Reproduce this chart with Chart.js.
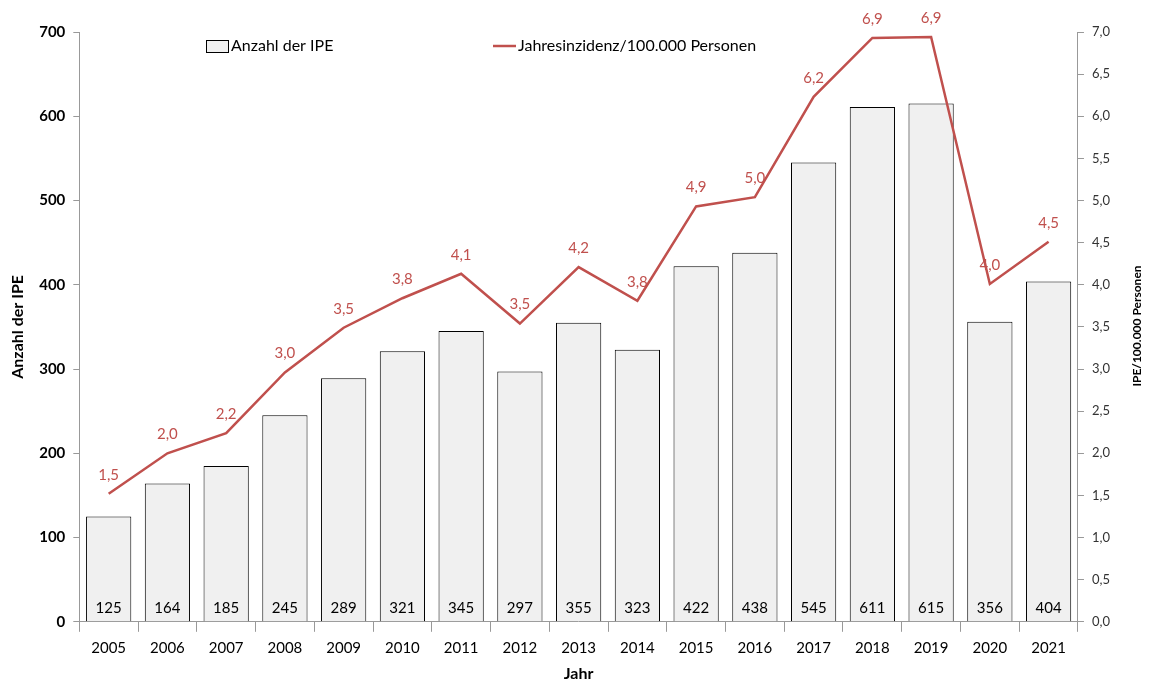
<!DOCTYPE html>
<html>
<head>
<meta charset="utf-8">
<script src="https://cdn.jsdelivr.net/npm/chart.js@4"></script>
<style>
  html, body { margin: 0; padding: 0; background: #fff; }
  #wrap { width: 1150px; height: 687px; }
</style>
</head>
<body>
<div id="wrap"><canvas id="ipeChart"></canvas></div>
<script>
// Jahre (x-Achse)
const years = ['2005', '2006', '2007', '2008', '2009', '2010', '2011', '2012', '2013',
  '2014', '2015', '2016', '2017', '2018', '2019', '2020', '2021'];
// Anzahl der IPE (Balken)
const ipeCount = [125, 164, 185, 245, 289, 321, 345, 297, 355, 323, 422, 438, 545, 611, 615, 356, 404];
// Jahresinzidenz/100.000 Personen (Linie)
const incidence = [1.52, 2.0, 2.24, 2.96, 3.49, 3.84, 4.13, 3.54, 4.21, 3.81, 4.93, 5.04, 6.23, 6.93, 6.94, 4.01, 4.51];

const FONT = 'Lato, "Open Sans", sans-serif';
const RED = '#c0504d';

function deNum(v) { return v.toFixed(1).replace('.', ','); }

// Beschriftungen, Legende und rechter Achsentitel
const labelPlugin = {
  id: 'labelPlugin',
  afterDatasetsDraw(chart) {
    const ctx = chart.ctx;
    const area = chart.chartArea;
    ctx.save();
    ctx.textAlign = 'center';
    ctx.textBaseline = 'middle';

    // Balkenwerte unten im Balken
    ctx.font = '15px ' + FONT;
    ctx.fillStyle = '#000';
    chart.getDatasetMeta(0).data.forEach(function(bar, i) {
      ctx.fillText(ipeCount[i], bar.x, area.bottom - 14);
    });

    // Linienwerte über den Punkten
    ctx.fillStyle = RED;
    chart.getDatasetMeta(1).data.forEach(function(pt, i) {
      ctx.fillText(deNum(incidence[i]), pt.x, pt.y - 19);
    });

    // Legende
    ctx.textAlign = 'left';
    ctx.font = '16px ' + FONT;
    ctx.fillStyle = '#f0f0f0';
    ctx.fillRect(206, 40, 22, 12);
    ctx.strokeStyle = '#000';
    ctx.lineWidth = 1;
    ctx.strokeRect(206.5, 40.5, 22, 12);
    ctx.fillStyle = '#000';
    ctx.fillText('Anzahl der IPE', 231, 46);
    ctx.strokeStyle = RED;
    ctx.lineWidth = 2.5;
    ctx.beginPath();
    ctx.moveTo(493, 46);
    ctx.lineTo(516, 46);
    ctx.stroke();
    ctx.fillText('Jahresinzidenz/100.000 Personen', 518, 46);

    // rechter Achsentitel (von unten nach oben)
    ctx.translate(1137, 326);
    ctx.rotate(-Math.PI / 2);
    ctx.textAlign = 'center';
    ctx.font = 'bold 12px ' + FONT;
    ctx.fillText('IPE/100.000 Personen', 0, 0);
    ctx.restore();
  }
};

const ctx = document.getElementById('ipeChart').getContext('2d');
const ipeChart = new Chart(ctx, {
  type: 'bar',
  data: {
    labels: years,
    datasets: [
      {
        label: 'Anzahl der IPE',
        data: ipeCount,
        backgroundColor: '#f0f0f0',
        borderColor: '#000',
        borderWidth: 1,
        barPercentage: 0.77,
        categoryPercentage: 1.0,
        yAxisID: 'y',
        order: 2
      },
      {
        label: 'Jahresinzidenz/100.000 Personen',
        type: 'line',
        data: incidence,
        borderColor: RED,
        backgroundColor: RED,
        borderWidth: 2.5,
        pointRadius: 0,
        tension: 0,
        yAxisID: 'y1',
        order: 1
      }
    ]
  },
  options: {
    responsive: true,
    maintainAspectRatio: false,
    animation: false,
    layout: { padding: { top: 32, right: 32, left: 4, bottom: 0 } },
    plugins: {
      legend: { display: false },
      tooltip: { enabled: false }
    },
    scales: {
      x: {
        grid: { offset: true, drawOnChartArea: false, tickLength: 10, color: '#999' },
        border: { color: '#999' },
        ticks: { color: '#000', font: { family: FONT, size: 15 }, padding: 7 },
        title: { display: true, text: 'Jahr', color: '#000', font: { family: FONT, size: 16, weight: 'bold' }, padding: { top: 0 } }
      },
      y: {
        position: 'left',
        min: 0,
        max: 700,
        ticks: { stepSize: 100, color: '#000', font: { family: FONT, size: 15, weight: 'bold' }, padding: 8 },
        grid: { drawOnChartArea: false, tickLength: 6, color: '#999' },
        border: { color: '#999' },
        title: { display: true, text: 'Anzahl der IPE', color: '#000', font: { family: FONT, size: 16, weight: 'bold' } }
      },
      y1: {
        position: 'right',
        min: 0,
        max: 7,
        ticks: {
          stepSize: 0.5,
          color: '#333',
          font: { family: FONT, size: 13 },
          padding: 8,
          callback: function(v) { return deNum(v); }
        },
        grid: { drawOnChartArea: false, tickLength: 6, color: '#999' },
        border: { color: '#999' }
      }
    }
  },
  plugins: [labelPlugin]
});
</script>
</body>
</html>
